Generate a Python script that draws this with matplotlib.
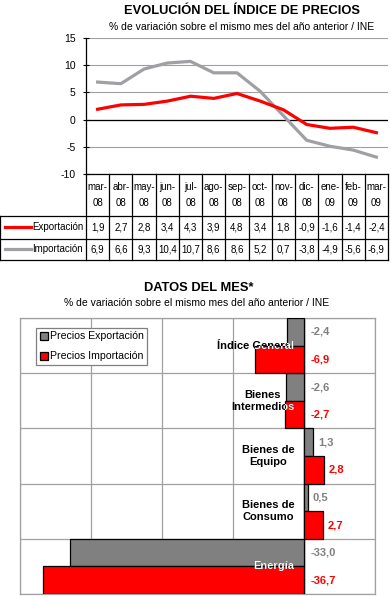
import numpy as np
import matplotlib.pyplot as plt

W, H = 391, 596

# datos evolución
meses = ['mar-\n08', 'abr-\n08', 'may-\n08', 'jun-\n08', 'jul-\n08', 'ago-\n08', 'sep-\n08',
         'oct-\n08', 'nov-\n08', 'dic-\n08', 'ene-\n09', 'feb-\n09', 'mar-\n09']
exportacion = [1.9, 2.7, 2.8, 3.4, 4.3, 3.9, 4.8, 3.4, 1.8, -0.9, -1.6, -1.4, -2.4]
importacion = [6.9, 6.6, 9.3, 10.4, 10.7, 8.6, 8.6, 5.2, 0.7, -3.8, -4.9, -5.6, -6.9]

# datos del mes
categorias = ['Índice General', 'Bienes\nIntermedios', 'Bienes de\nEquipo', 'Bienes de\nConsumo', 'Energía']
precios_exp = [-2.4, -2.6, 1.3, 0.5, -33.0]
precios_imp = [-6.9, -2.7, 2.8, 2.7, -36.7]

ROJO = '#ff0000'
GRIS_LINEA = '#a0a0a4'
GRIS_BARRA = '#808080'
GRIS_REJILLA = '#a0a0a0'

plt.rcParams['font.family'] = ['Liberation Sans', 'DejaVu Sans']
plt.rcParams['axes.unicode_minus'] = False


def fmt(v):
    return f'{v:.1f}'.replace('.', ',')


fig = plt.figure(figsize=(W / 100, H / 100), dpi=100)
fig.patch.set_facecolor('white')

# --- gráfico de líneas ---
ax1 = fig.add_axes([86 / W, 1 - 174 / H, 302 / W, 136 / H])
x = np.arange(len(meses))
ax1.plot(x, importacion, color=GRIS_LINEA, lw=2.3, zorder=3)
ax1.plot(x, exportacion, color=ROJO, lw=2.3, zorder=4)
ax1.set_xlim(-0.5, len(meses) - 0.5)
ax1.set_ylim(-10, 15)
ax1.set_yticks(range(-10, 16, 5))
ax1.set_xticks([])
ax1.grid(axis='y', color=GRIS_REJILLA, lw=0.8)
ax1.axhline(0, color='black', lw=0.9, zorder=2)
for s in ['top', 'right']:
    ax1.spines[s].set_visible(False)
ax1.spines['left'].set_linewidth(0.9)
ax1.spines['bottom'].set_linewidth(0.9)
ax1.tick_params(axis='y', direction='inout', length=5, width=0.8, labelsize=7.5, pad=5)

# --- tabla de datos ---
ax_t = fig.add_axes([0, 1 - 260 / H, 388 / W, 86 / H])
unit = 302 / len(meses)
x0 = -0.5 - 86 / unit
ax_t.set_xlim(x0, len(meses) - 0.5)
ax_t.set_ylim(86, 0)
ax_t.axis('off')
lk = dict(color='black', lw=0.9, clip_on=False)
for k in range(len(meses) + 1):
    ax_t.plot([k - 0.5, k - 0.5], [0, 86], **lk)
for yy in [42, 65, 86]:
    ax_t.plot([x0, len(meses) - 0.5], [yy, yy], **lk)
ax_t.plot([x0 + 0.02, x0 + 0.02], [42, 86], **lk)

fs_t = 7
for k, m in enumerate(meses):
    ax_t.text(k, 21, m, ha='center', va='center', fontsize=fs_t, linespacing=1.85)
    ax_t.text(k, 53.5, fmt(exportacion[k]), ha='center', va='center', fontsize=fs_t)
    ax_t.text(k, 75.5, fmt(importacion[k]), ha='center', va='center', fontsize=fs_t)

for yy, col, nom in [(53.5, ROJO, 'Exportación'), (75.5, GRIS_LINEA, 'Importación')]:
    ax_t.plot([x0 + 5 / unit, x0 + 31 / unit], [yy, yy], color=col, lw=2.3)
    ax_t.text(x0 + 32.5 / unit, yy, nom, ha='left', va='center', fontsize=fs_t)

fig.text(242 / W, 1 - 11.5 / H, 'EVOLUCIÓN DEL ÍNDICE DE PRECIOS', ha='center', va='center',
         fontsize=9.3, fontweight='bold')
fig.text(242 / W, 1 - 27 / H, '% de variación sobre el mismo mes del año anterior / INE',
         ha='center', va='center', fontsize=7.5)

# --- gráfico de barras ---
fig.text(199 / W, 1 - 288 / H, 'DATOS DEL MES*', ha='center', va='center',
         fontsize=9.3, fontweight='bold')
fig.text(197 / W, 1 - 303.5 / H, '% de variación sobre el mismo mes del año anterior / INE',
         ha='center', va='center', fontsize=7.5)

ax2 = fig.add_axes([20 / W, 1 - 594 / H, 355 / W, 276 / H])
y = np.arange(len(categorias))
bars_e = ax2.barh(y - 0.25, precios_exp, height=0.5, color=GRIS_BARRA, edgecolor='black',
                  lw=0.9, label='Precios Exportación', zorder=3)
bars_i = ax2.barh(y + 0.25, precios_imp, height=0.5, color=ROJO, edgecolor='black',
                  lw=0.9, label='Precios Importación', zorder=3)
ax2.set_xlim(-40, 10)
ax2.set_ylim(len(categorias) - 0.5, -0.5)
ax2.set_xticks(range(-40, 11, 10))
ax2.set_yticks(np.arange(-0.5, len(categorias), 1))
ax2.grid(True, color=GRIS_REJILLA, lw=0.9)
ax2.set_axisbelow(True)
ax2.tick_params(length=0, labelbottom=False, labelleft=False)
for s in ax2.spines.values():
    s.set_color(GRIS_REJILLA)
    s.set_linewidth(0.9)
ax2.axvline(0, color='black', lw=0.9, zorder=2)

for i, cat in enumerate(categorias):
    kw = dict(xy=(0, i), xytext=(-7, 0), textcoords='offset points', ha='right', va='center',
              multialignment='center', fontsize=8, fontweight='bold', linespacing=1.3, zorder=5)
    ax2.annotate(cat, color='black', **kw)
    for b in (bars_e[i], bars_i[i]):
        t = ax2.annotate(cat, color='white', **kw)
        t.set_clip_path(b)

for bars, vals, col in [(bars_e, precios_exp, GRIS_BARRA), (bars_i, precios_imp, ROJO)]:
    for b, v in zip(bars, vals):
        yc = b.get_y() + b.get_height() / 2
        ax2.annotate(fmt(v), xy=(max(v, 0), yc), xytext=(3.5 if v > 0 else 4.5, 0),
                     textcoords='offset points', ha='left', va='center',
                     fontsize=8, fontweight='bold', color=col, zorder=5)

leg = ax2.legend(loc='upper left', bbox_to_anchor=(16 / 355, (594 - 327.7) / 276),
                 frameon=True, fancybox=False, edgecolor=GRIS_BARRA, fontsize=7.6,
                 handlelength=0.75, handleheight=0.75, handletextpad=0.2, borderpad=0.35,
                 labelspacing=0.95, borderaxespad=0, framealpha=1)
leg.get_frame().set_linewidth(0.9)

fig.savefig('out.png', dpi=100)
